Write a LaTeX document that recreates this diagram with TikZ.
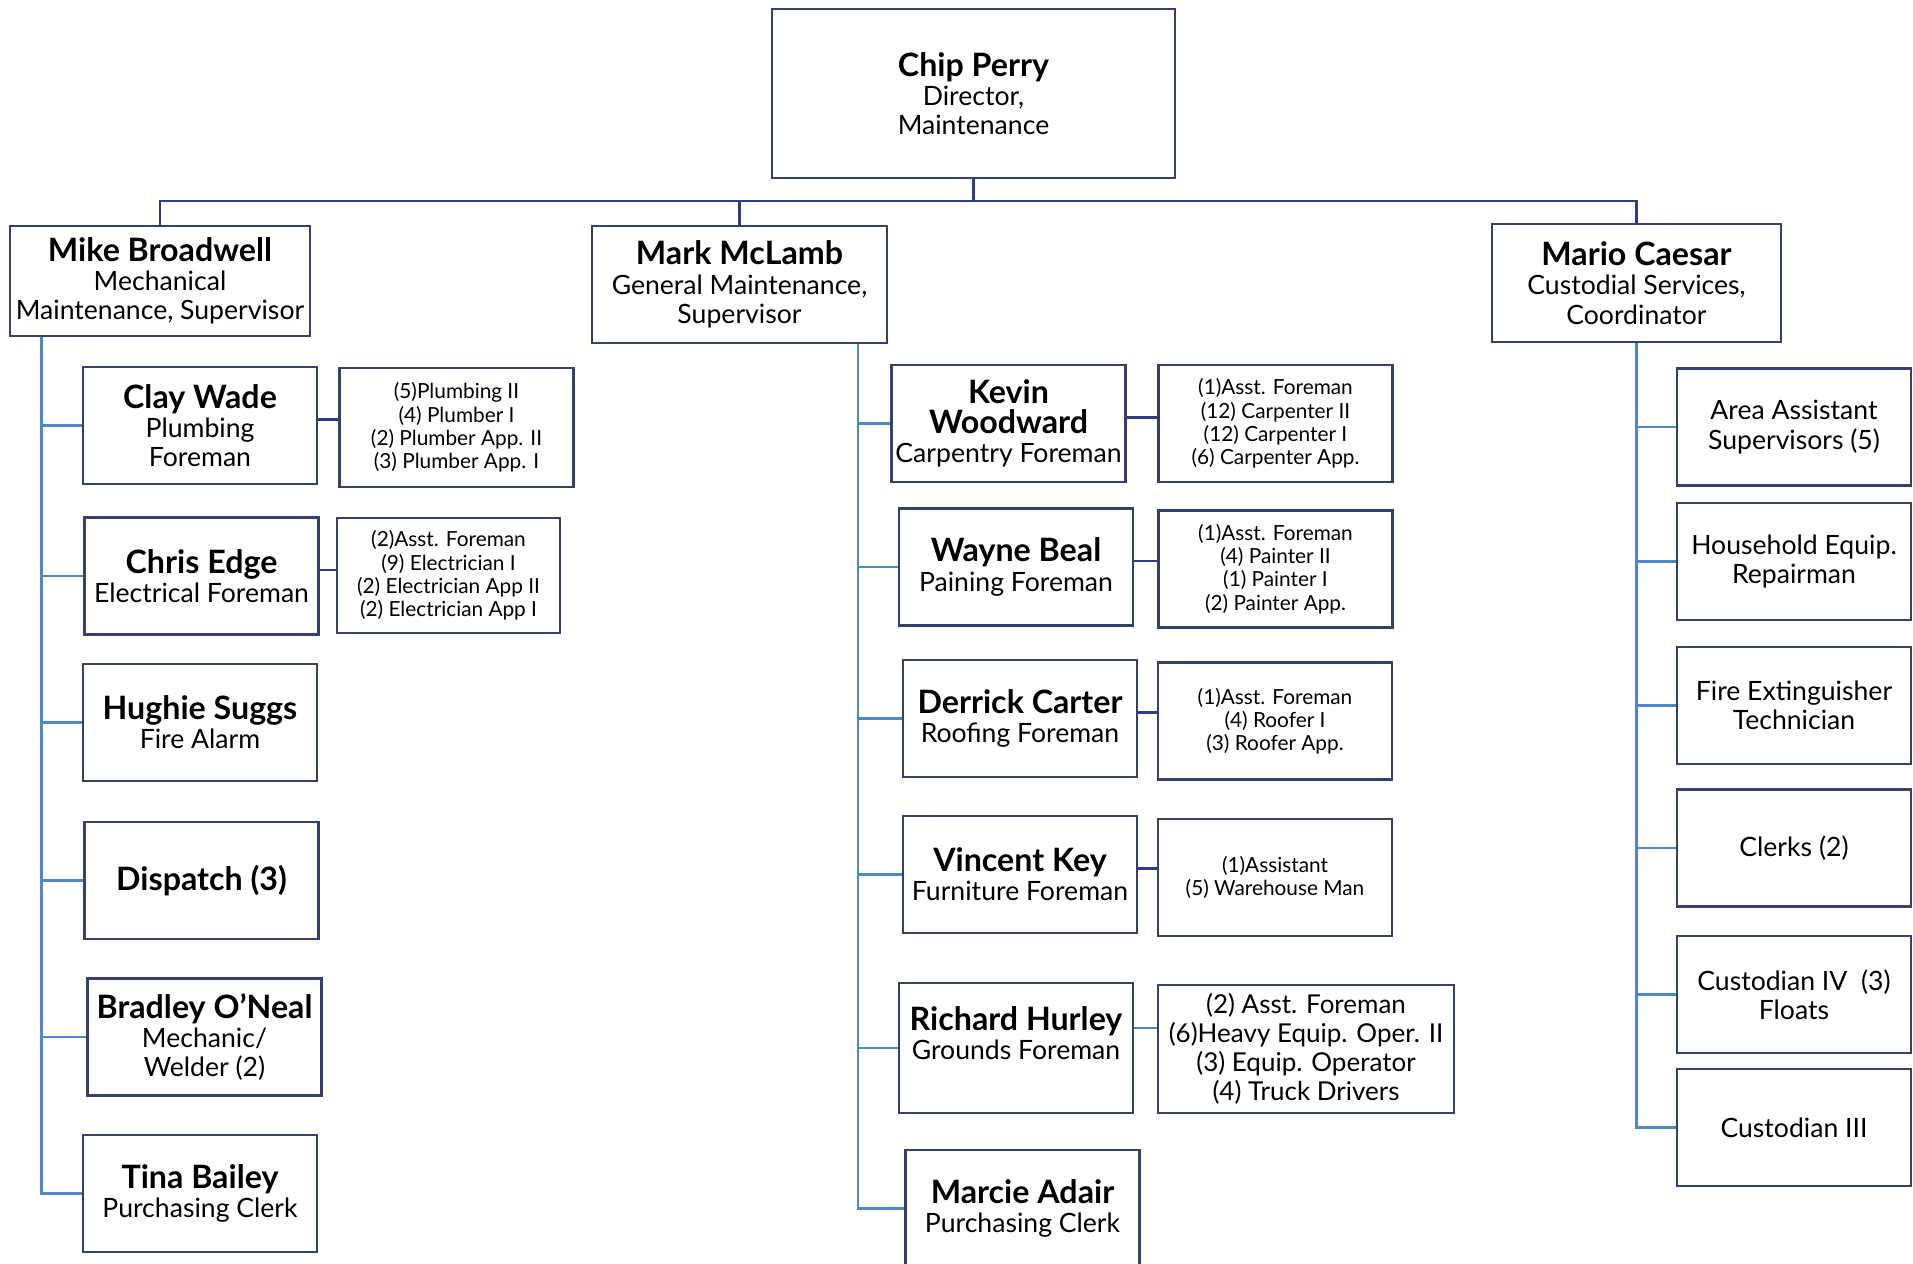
\documentclass[tikz,border=0pt]{standalone}
\usepackage{fontspec}
\setmainfont{Lato}

\definecolor{boxline}{HTML}{363F72}
\definecolor{busline}{HTML}{2F3C8C}
\definecolor{twigline}{HTML}{4E88C8}

\newcommand{\nm}[1]{{\fontsize{16.1}{18}\selectfont\bfseries #1}}

\tikzset{
  post/.style={draw=boxline, line width=1.3pt, fill=white, align=center, inner sep=0pt,
    font=\fontsize{13.3}{14.6}\selectfont},
  unit/.style={post, minimum width=117pt, minimum height=58.5pt},
  crew/.style={unit, font=\fontsize{10.4}{11.6}\selectfont},
  bus/.style={draw=busline, line width=1.2pt},
  twig/.style={draw=twigline, line width=1.3pt}
}

\begin{document}
\begin{tikzpicture}[x=0.5pt, y=-0.5pt]
        \useasboundingbox (0,0) rectangle (1913,1264);

        %director and supervisors
        \node[post, minimum width=201.5pt, minimum height=84.5pt] (chip) at (973.5,93.5) {\nm{Chip Perry}\\Director,\\Maintenance};
        \node[post, minimum width=150pt, minimum height=55pt] (mike) at (160,281) {\nm{Mike Broadwell}\\Mechanical\\Maintenance, Supervisor};
        \node[post, minimum width=147.5pt, minimum height=58.5pt] (mark) at (739.5,284.5) {\nm{Mark McLamb}\\General Maintenance,\\Supervisor};
        \node[post, minimum width=144.5pt, minimum height=59pt] (mario) at (1636.5,283) {\nm{Mario Caesar}\\Custodial Services,\\Coordinator};

        %mechanical column
        \node[unit] (clay) at (200,425.5) {\nm{Clay Wade}\\Plumbing\\Foreman};
        \node[crew, minimum height=59.5pt] (clayd) at (456.5,427.5) {(5)Plumbing II\\(4) Plumber I\\(2) Plumber App. II\\(3) Plumber App. I};
        \node[unit] (chris) at (201.5,576) {\nm{Chris Edge}\\Electrical Foreman};
        \node[crew, minimum width=111.5pt, minimum height=57.5pt] (chrisd) at (448.5,575.5) {(2)Asst. Foreman\\(9) Electrician I\\(2) Electrician App II\\(2) Electrician App I};
        \node[unit] (hughie) at (200,722.5) {\nm{Hughie Suggs}\\Fire Alarm};
        \node[unit] (dispatch) at (201.5,880.5) {\nm{Dispatch (3)}};
        \node[unit] (bradley) at (204.5,1037) {\nm{Bradley O’Neal}\\Mechanic/\\Welder (2)};
        \node[unit] (tina) at (200,1193.5) {\nm{Tina Bailey}\\Purchasing Clerk};

        %general maintenance column
        \node[unit] (kevin) at (1008.5,423.5) {\nm{Kevin}\\\nm{Woodward}\\Carpentry Foreman};
        \node[crew] (kevind) at (1275.5,423.5) {(1)Asst. Foreman\\(12) Carpenter II\\(12) Carpenter I\\(6) Carpenter App.};
        \node[unit] (wayne) at (1016,567) {\nm{Wayne Beal}\\Paining Foreman};
        \node[crew] (wayned) at (1275.5,569) {(1)Asst. Foreman\\(4) Painter II\\(1) Painter I\\(2) Painter App.};
        \node[unit] (derrick) at (1020,718.5) {\nm{Derrick Carter}\\Roofing Foreman};
        \node[crew] (derrickd) at (1275,721) {(1)Asst. Foreman\\(4) Roofer I\\(3) Roofer App.};
        \node[unit] (vincent) at (1020,874.5) {\nm{Vincent Key}\\Furniture Foreman};
        \node[crew] (vincentd) at (1275,877.5) {(1)Assistant\\(5) Warehouse Man};
        \node[unit, minimum height=65pt] (richard) at (1016,1048) {\nm{Richard Hurley}\\Grounds Foreman\\ \mbox{}};
        \node[unit, minimum width=148pt, minimum height=64pt, font=\fontsize{13}{14.6}\selectfont] (richardd) at (1306,1049) {(2) Asst. Foreman\\(6)Heavy Equip. Oper. II\\(3) Equip. Operator\\(4) Truck Drivers};
        \node[unit] (marcie) at (1022.5,1208.5) {\nm{Marcie Adair}\\Purchasing Clerk};

        %custodial column
        \node[unit] (area) at (1794,427) {Area Assistant\\Supervisors (5)};
        \node[unit] (household) at (1794,561.5) {Household Equip.\\Repairman};
        \node[unit] (fire) at (1794,705.5) {Fire Extinguisher\\Technician};
        \node[unit] (clerks) at (1794,848) {Clerks (2)};
        \node[unit] (custiv) at (1794,994.5) {Custodian IV~~(3)\\Floats};
        \node[unit] (custiii) at (1794,1127.5) {Custodian III};

        %top bus
        \coordinate (bus) at (973.5,201);
        \draw[bus] (chip.south) -- (bus);
        \draw[bus] (mike.north) |- (bus) -| (mario.north);
        \draw[bus] (bus -| mark.north) -- (mark.north);

        %spines
        \coordinate (spineL) at (41.5,0);
        \coordinate (spineM) at (858,0);
        \draw[twig] (mike.south -| spineL) |- (tina.west);
        \foreach \n in {clay,chris,hughie,dispatch,bradley}
            \draw[twig] (\n.west -| spineL) -- (\n.west);
        \draw[twig] (mark.south -| spineM) |- (marcie.west);
        \foreach \n in {kevin,wayne,derrick,vincent,richard}
            \draw[twig] (\n.west -| spineM) -- (\n.west);
        \draw[twig] (mario.south) |- (custiii.west);
        \foreach \n in {area,household,fire,clerks,custiv}
            \draw[twig] (\n.west -| mario.south) -- (\n.west);

        %crew links
        \foreach \n in {clay,chris,kevin,wayne,derrick,vincent}
            \draw[bus] ([yshift=3pt]\n.east) -- ([yshift=3pt]\n.east -| \n d.west);
        \draw[twig] ([yshift=10pt]richard.east) -- ([yshift=10pt]richard.east -| richardd.west);

    \end{tikzpicture}
\end{document}
